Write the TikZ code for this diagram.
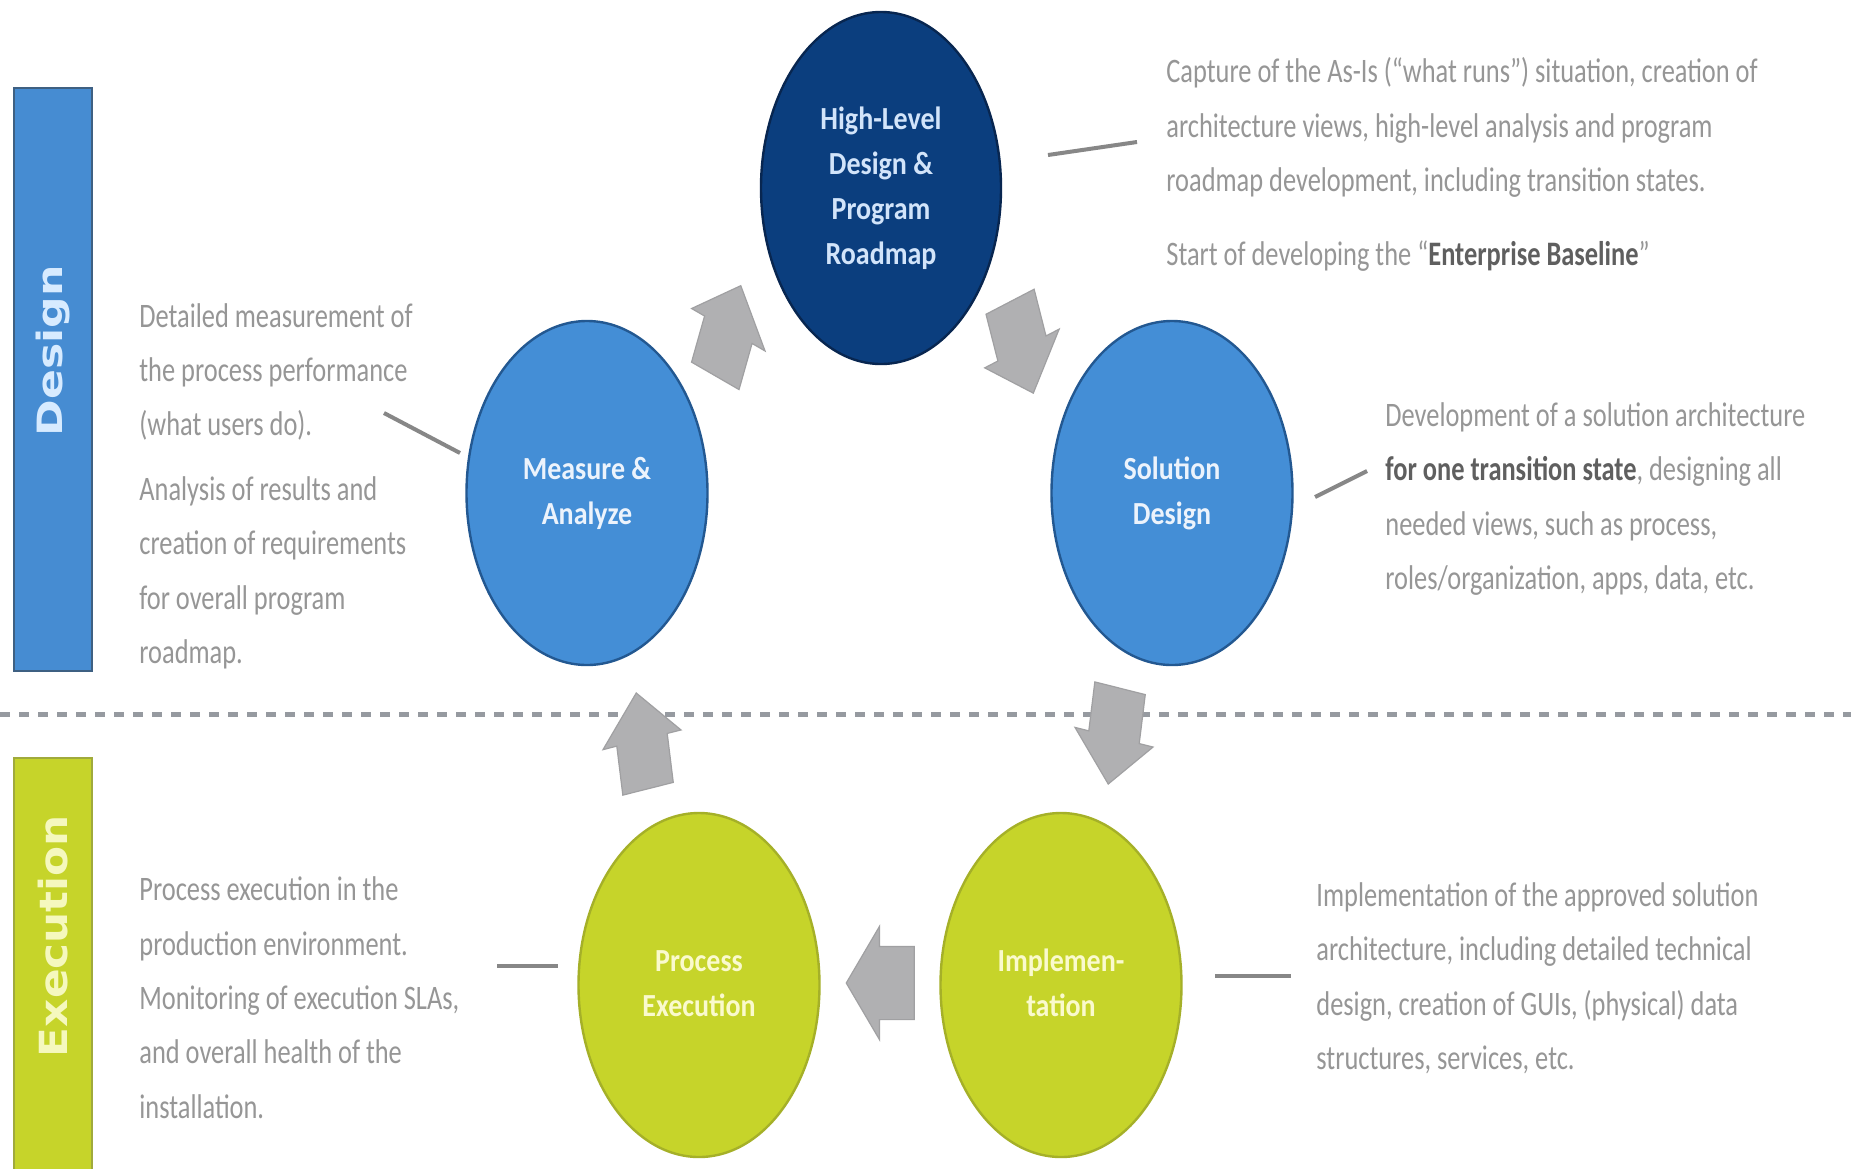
\documentclass[tikz,border=0pt]{standalone}
\usepackage{graphicx}
\usepackage{fontspec}
\setmainfont{Carlito}
\newfontfamily\barfont{DejaVu Sans}
\usetikzlibrary{shapes.geometric,shapes.arrows}
\definecolor{navy}{RGB}{11,62,126}
\definecolor{navyedge}{RGB}{8,38,80}
\definecolor{midblue}{RGB}{68,142,214}
\definecolor{midedge}{RGB}{35,88,145}
\definecolor{lime}{RGB}{198,212,42}
\definecolor{limeedge}{RGB}{165,176,40}
\definecolor{barblue}{RGB}{70,140,210}
\definecolor{barblueedge}{RGB}{62,96,130}
\definecolor{barlime}{RGB}{198,212,42}
\definecolor{barlimeedge}{RGB}{160,170,60}
\definecolor{arrowgray}{RGB}{176,176,178}
\definecolor{arrowedge}{RGB}{160,160,162}
\definecolor{descgray}{RGB}{150,150,150}
\definecolor{descdark}{RGB}{95,95,95}
\definecolor{leadgray}{RGB}{135,135,135}
\definecolor{dashgray}{RGB}{150,154,160}
\definecolor{hltext}{RGB}{210,228,250}
\definecolor{bluetext}{RGB}{236,243,252}
\definecolor{limetext}{RGB}{250,250,205}
\definecolor{designtext}{RGB}{215,235,255}
\definecolor{exectext}{RGB}{245,248,190}
\newcommand{\desctext}[1]{\scalebox{1}[1.3]{\begin{tabular}{@{}l@{}}#1\end{tabular}}}
\newcommand{\lbltext}[1]{\scalebox{1}[1.15]{\begin{tabular}{@{}c@{}}#1\end{tabular}}}
\begin{document}
\begin{tikzpicture}[x=0.5pt,y=-0.5pt,
  stage/.style={ellipse, inner sep=0pt, line width=1.2pt, minimum width=120.5pt, minimum height=172pt,
    font=\bfseries\fontsize{14}{19.6}\selectfont},
  desc/.style={anchor=west, inner sep=0pt, text=descgray, font=\fontsize{13.2}{20.9}\selectfont},
  bar/.style={rectangle, inner sep=0pt, line width=1.2pt, minimum width=39pt},
  barlabel/.style={rotate=90, inner sep=0pt, font=\barfont\bfseries},
  flow/.style={single arrow, fill=arrowgray, draw=arrowedge, line width=0.6pt, inner sep=0pt,
    minimum height=34pt, single arrow head extend=7pt, single arrow tip angle=100, yscale=1.43},
  leader/.style={draw=leadgray, line width=2pt},
  divider/.style={draw=dashgray, line width=2.5pt, dash pattern=on 5pt off 4.5pt}]
\useasboundingbox[fill=white] (0,0) rectangle (1851,1168);

% side bars
\node[bar, fill=barblue, draw=barblueedge, minimum height=291.5pt] (designbar) at (53,379.5) {};
\node[barlabel, text=designtext] (designlbl) at (53,351) {\resizebox*{85.5pt}{17pt}{Design}};
\node[bar, fill=barlime, draw=barlimeedge, minimum height=206pt] (execbar) at (53,964) {};
\node[barlabel, text=exectext] (execlbl) at (53,936) {\resizebox*{121pt}{15pt}{Execution}};

% divider
\coordinate (dashL) at (0,714);
\coordinate (dashR) at (1851,714);
\draw[divider] (dashL) -- (dashR);

% stages
\node[stage, fill=navy, draw=navyedge, text=hltext, minimum width=120pt, minimum height=176pt] (hl) at (881,188)
  {\lbltext{High-Level\\Design \&\\Program\\Roadmap}};
\node[stage, fill=midblue, draw=midedge, text=bluetext] (ma) at (587,493) {\lbltext{Measure \&\\Analyze}};
\node[stage, fill=midblue, draw=midedge, text=bluetext] (sd) at (1172,493) {\lbltext{Solution\\Design}};
\node[stage, fill=lime, draw=limeedge, text=limetext] (pe) at (699,985) {\lbltext{Process\\Execution}};
\node[stage, fill=lime, draw=limeedge, text=limetext] (im) at (1061,985) {\lbltext{Implemen-\\tation}};

% flow arrows
\node[flow, rotate=68] (a1) at (724,345) {\rule{0pt}{25pt}};
\node[flow, rotate=-70] (a2) at (1018,333) {\rule{0pt}{25pt}};
\node[flow, rotate=-100] (a3) at (1116,721) {\rule{0pt}{25pt}};
\node[flow, rotate=180] (a4) at (891,983) {\rule{0pt}{25pt}};
\node[flow, rotate=100] (a5) at (644,756) {\rule{0pt}{25pt}};

% descriptions
\node[desc] (hltxt) at (1166,163.5) {\desctext{Capture of the As-Is (“what runs”) situation, creation of\\
architecture views, high-level analysis and program\\
roadmap development, including transition states.\\[7.7pt]
Start of developing the “\textcolor{descdark}{\textbf{Enterprise Baseline}}”}};
\node[desc] (matxt) at (139,484.5) {\desctext{Detailed measurement of\\
the process performance\\
(what users do).\\[4pt]
Analysis of results and\\
creation of requirements\\
for overall program\\
roadmap.}};
\node[desc] (sdtxt) at (1385,497) {\desctext{Development of a solution architecture\\
\textcolor{descdark}{\textbf{for one transition state}}, designing all\\
needed views, such as process,\\
roles/organization, apps, data, etc.}};
\node[desc] (petxt) at (139,998.5) {\desctext{Process execution in the\\
production environment.\\
Monitoring of execution SLAs,\\
and overall health of the\\
installation.}};
\node[desc] (imtxt) at (1316,977) {\desctext{Implementation of the approved solution\\
architecture, including detailed technical\\
design, creation of GUIs, (physical) data\\
structures, services, etc.}};

% leader lines
\coordinate (hlA) at (1048,155); \coordinate (hlB) at (1137,142);
\coordinate (maA) at (384,413);  \coordinate (maB) at (460,453);
\coordinate (sdA) at (1315,497); \coordinate (sdB) at (1367,471);
\coordinate (peA) at (497,966);  \coordinate (peB) at (558,966);
\coordinate (imA) at (1215,976); \coordinate (imB) at (1291,976);
\draw[leader] (hlA) -- (hlB);
\draw[leader] (maA) -- (maB);
\draw[leader] (sdA) -- (sdB);
\draw[leader] (peA) -- (peB);
\draw[leader] (imA) -- (imB);
\end{tikzpicture}
\end{document}
